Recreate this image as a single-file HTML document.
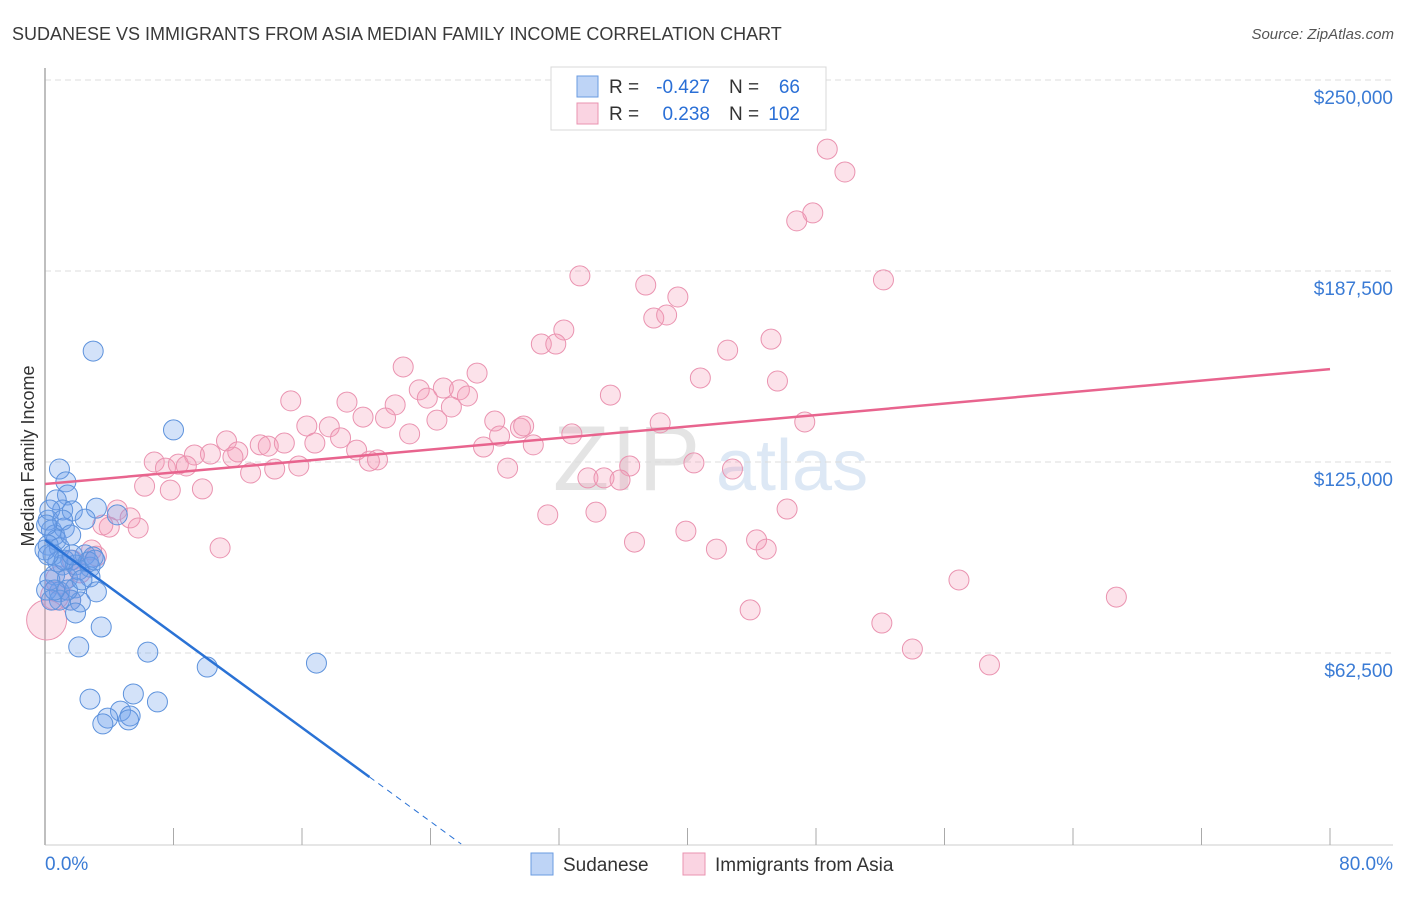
<!DOCTYPE html>
<html><head><meta charset="utf-8">
<style>
body{margin:0;background:#fff;font-family:"Liberation Sans",sans-serif;}
svg text{font-family:"Liberation Sans",sans-serif;}
</style></head>
<body>
<svg id="chart" width="1406" height="892" xmlns="http://www.w3.org/2000/svg">
<text x="12" y="40" font-size="18" fill="#3a3a3a">SUDANESE VS IMMIGRANTS FROM ASIA MEDIAN FAMILY INCOME CORRELATION CHART</text>
<text x="1394" y="39" font-size="15" fill="#555" text-anchor="end" font-style="italic">Source: ZipAtlas.com</text>
<text x="553" y="490" font-size="92" fill="#e4e4e4" font-family="Liberation Serif, serif" letter-spacing="2">ZIP</text>
<text x="716" y="490" font-size="72" fill="#dde8f5">atlas</text>
<g id="grid"></g>
<g id="axes"></g>
<g id="marks"></g>
<text transform="translate(34,456) rotate(-90)" font-size="18" fill="#333" text-anchor="middle">Median Family Income</text>
<g>
<rect x="551" y="67" width="275" height="63" fill="#fff" stroke="#d8d8d8"/>
<rect x="577" y="76" width="21" height="21" fill="rgba(110,160,235,0.45)" stroke="#6a9be0"/>
<text x="609" y="93" font-size="19" fill="#333">R = </text>
<text x="710" y="93" font-size="19" fill="#2a6fd6" text-anchor="end">-0.427</text>
<text x="729" y="93" font-size="19" fill="#333">N = </text>
<text x="800" y="93" font-size="19" fill="#2a6fd6" text-anchor="end">66</text>
<rect x="577" y="103" width="21" height="21" fill="rgba(245,160,190,0.45)" stroke="#ea93b0"/>
<text x="609" y="120" font-size="19" fill="#333">R = </text>
<text x="710" y="120" font-size="19" fill="#2a6fd6" text-anchor="end">0.238</text>
<text x="729" y="120" font-size="19" fill="#333">N = </text>
<text x="800" y="120" font-size="19" fill="#2a6fd6" text-anchor="end">102</text>
</g>
<g>
<rect x="531" y="853" width="22" height="22" fill="rgba(110,160,235,0.45)" stroke="#6a9be0"/>
<text x="563" y="871" font-size="19" fill="#333">Sudanese</text>
<rect x="683" y="853" width="22" height="22" fill="rgba(245,160,190,0.45)" stroke="#ea93b0"/>
<text x="715" y="871" font-size="19" fill="#333">Immigrants from Asia</text>
</g>
</svg>
<script>
const yTicks=[62500,125000,187500,250000];
const yTickLabels=["$62,500","$125,000","$187,500","$250,000"];
const xTickLabels=["0.0%","80.0%"];
const sudX=[3.0,8.0,0.9,1.3,1.4,0.7,3.2,1.1,1.7,2.5,4.5,0.2,0.4,1.2,0.6,0.7,0.2,0.9,0.5,1.6,2.5,3.0,1.1,1.9,2.8,0.6,1.4,2.8,1.9,0.9,3.2,1.6,2.2,0.1,1.9,3.5,2.1,6.4,10.1,16.9,2.8,5.5,7.0,4.7,3.9,5.3,3.6,5.2,1.4,0.3,0.8,2.1,2.7,0.0,0.3,1.1,1.6,2.3,0.9,0.4,1.2,1.7,3.1,0.6,0.2,0.1];
const sudY=[161.3,135.5,122.7,118.5,114.2,112.6,109.9,109.3,109.0,106.3,107.7,106.0,102.7,103.4,101.1,99.5,97.8,96.9,94.6,92.9,94.6,93.9,91.3,91.3,90.6,88.0,87.0,87.4,83.8,82.5,82.5,79.8,79.2,83.1,75.6,71.0,64.5,62.8,57.9,59.2,47.4,49.1,46.5,43.5,41.2,41.9,39.3,40.6,83.1,86.4,92.3,89.7,92.3,96.2,109.3,106.0,101.1,86.4,79.8,79.8,92.9,94.6,92.9,83.1,94.6,104.4];
const asiaX=[48.7,49.8,47.8,46.8,33.3,37.4,39.4,52.2,37.9,38.7,32.3,30.9,31.8,42.5,45.2,22.3,26.9,35.2,40.8,45.6,15.3,18.8,23.3,24.8,25.8,26.3,23.8,25.3,21.8,19.8,21.2,24.4,28.0,29.6,29.8,38.3,47.3,16.3,17.7,22.7,32.8,11.3,13.4,13.9,14.9,16.8,18.4,28.3,30.4,27.3,12.0,10.3,9.3,19.4,6.8,7.5,8.3,8.8,11.7,15.8,14.3,20.2,20.7,28.8,36.4,40.4,42.8,12.8,6.2,7.8,9.8,33.8,34.8,35.8,31.3,34.3,46.2,4.5,5.3,5.8,4.0,39.9,44.3,36.7,41.8,44.9,10.9,2.9,1.7,2.2,0.9,0.6,0.1,43.9,52.1,54.0,58.8,56.9,66.7,1.6,3.6,3.2];
const asiaY=[227.4,219.9,206.5,203.9,185.9,182.9,179.0,184.6,172.1,173.1,168.2,163.6,163.6,161.6,165.2,156.1,154.1,146.9,152.5,151.5,145.0,144.6,148.6,149.2,148.6,146.6,145.9,143.0,143.7,139.7,139.4,138.7,138.4,136.1,136.8,137.8,138.1,136.8,136.5,134.2,134.2,131.9,130.6,130.2,131.2,131.2,132.9,133.5,130.6,129.9,128.3,127.6,127.3,128.9,125.0,123.0,124.3,123.7,126.6,123.7,122.7,125.3,125.7,123.0,123.7,124.7,122.7,121.4,117.1,115.8,116.2,119.8,119.8,119.1,107.7,108.6,109.6,109.3,106.7,103.4,103.7,102.4,99.5,98.8,96.5,96.5,96.9,96.2,92.9,88.7,86.4,81.2,73.3,76.6,72.3,63.8,58.6,86.4,80.8,79.8,104.4,94.2];
const asiaBig=[0.1,0.9,0.6];
const sudTrend=[99.5,-3.84];
const asiaTrend=[117.8,0.47];

const NS="http://www.w3.org/2000/svg";
const X0=45,X1=1330,Y0=844,YTOP=80;
const xs=v=>X0+(v/80)*(X1-X0);
const ys=k=>Y0-(k/250)*(Y0-YTOP);
function mk(tag,attrs,parent){const e=document.createElementNS(NS,tag);for(const k in attrs)e.setAttribute(k,attrs[k]);parent.appendChild(e);return e;}
const grid=document.getElementById('grid'),axes=document.getElementById('axes'),marks=document.getElementById('marks');
yTicks.forEach((t,i)=>{
  const y=ys(t/1000);
  const l=mk('line',{x1:X0,x2:1393,y1:y,y2:y,stroke:'#dcdcdc','stroke-dasharray':'6,4'},grid);
  
  
  const tx=mk('text',{x:1393,y:y+24,'font-size':19,fill:'#3a7bd5','text-anchor':'end'},axes);
  tx.textContent=yTickLabels[i];
  
  
});
const ax=mk('line',{x1:X0,x2:X0,y1:68,y2:845,stroke:'#aaa','stroke-width':1.5},axes);


const bx=mk('line',{x1:X0,x2:1393,y1:845,y2:845,stroke:'#ccc'},axes);


for(let p=0;p<=80;p+=8){
  const t=mk('line',{x1:xs(p),x2:xs(p),y1:828,y2:845,stroke:'#aaa'},axes);
  
  
}
const xl0=mk('text',{x:45,y:870,'font-size':19,fill:'#3a7bd5'},axes);xl0.textContent=xTickLabels[0];


const xl1=mk('text',{x:1393,y:870,'font-size':19,fill:'#3a7bd5','text-anchor':'end'},axes);xl1.textContent=xTickLabels[1];



asiaX.forEach((v,i)=>{
  const big=asiaBig.includes(v)&&v<1;
  const c=mk('circle',{cx:xs(v),cy:ys(asiaY[i]),r:big?(v<0.5?20:14):10,fill:'rgba(244,150,180,0.28)',stroke:'#ea93b0','stroke-width':1},marks);
  
  
});
sudX.forEach((v,i)=>{
  const c=mk('circle',{cx:xs(v),cy:ys(sudY[i]),r:10,fill:'rgba(110,160,235,0.3)',stroke:'#5d92dc','stroke-width':1},marks);
  
  
});
const at=mk('line',{x1:xs(0),y1:ys(asiaTrend[0]),x2:xs(80),y2:ys(asiaTrend[0]+asiaTrend[1]*80),stroke:'#e8648e','stroke-width':2.5},marks);


const xEnd=20.2,xZero=-sudTrend[0]/sudTrend[1];
const st=mk('line',{x1:xs(0),y1:ys(sudTrend[0]),x2:xs(xEnd),y2:ys(sudTrend[0]+sudTrend[1]*xEnd),stroke:'#2a72d5','stroke-width':2.5},marks);


const sd=mk('line',{x1:xs(xEnd),y1:ys(sudTrend[0]+sudTrend[1]*xEnd),x2:xs(xZero),y2:ys(0),stroke:'#2a72d5','stroke-width':1,'stroke-dasharray':'6,5'},marks);


</script>
</body></html>
